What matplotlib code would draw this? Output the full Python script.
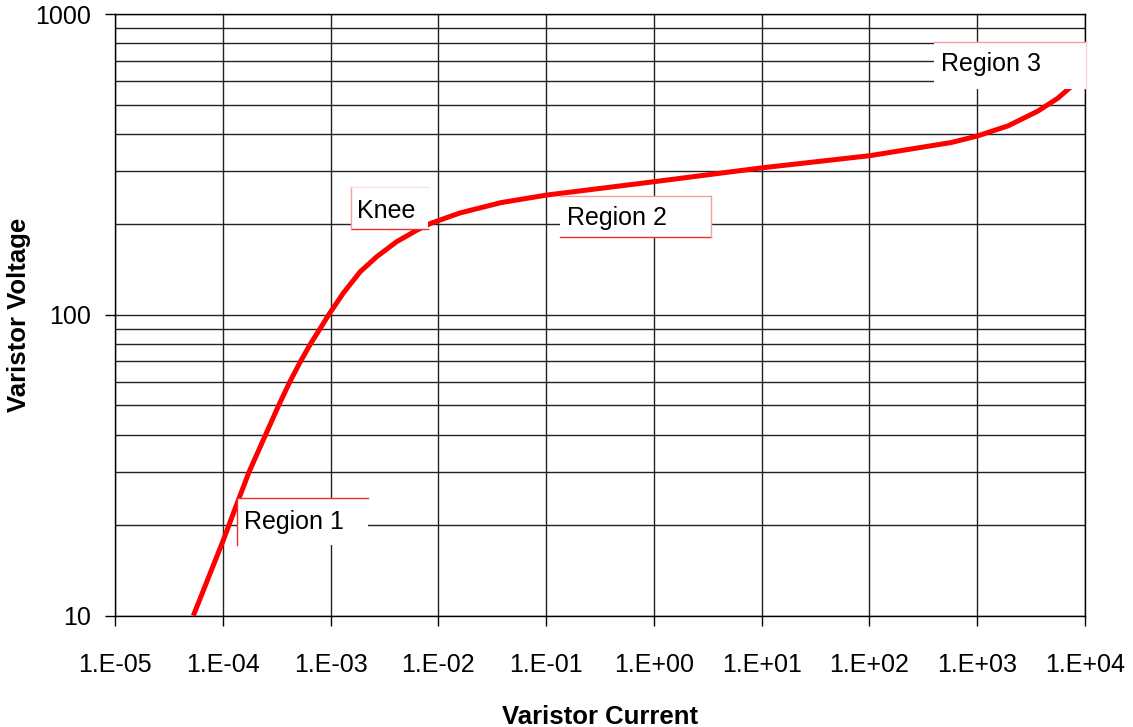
import matplotlib
matplotlib.use("Agg")
import matplotlib.pyplot as plt
from matplotlib.patches import Rectangle
from matplotlib.lines import Line2D
from matplotlib.ticker import FixedLocator, NullLocator, NullFormatter

plt.rcParams['font.family'] = ['Liberation Sans', 'DejaVu Sans']

# Data
current = [5.33e-5, 1.01e-4, 1.35e-4, 1.75e-4, 2.5e-4, 3.3e-4, 4.2e-4,
           5.26e-4, 6.5e-4, 8.0e-4, 9.6e-4, 1.31e-3, 1.88e-3, 2.68e-3, 4.1e-3,
           6.29e-3, 8.36e-3, 1.58e-2, 3.8e-2, 1.0e-1, 1.0, 10.0, 100.0, 575.0,
           1000.0, 1940.0, 3670.0, 5600.0, 7740.0, 9000.0]
voltage = [10, 17.8, 23.5, 30, 40, 50, 60, 70, 80, 90, 100, 118, 139, 156, 175,
           191, 201, 218, 236, 250, 277, 308, 338, 374, 393, 425, 476, 525,
           581, 620]

x_ticks = [1e-5, 1e-4, 1e-3, 1e-2, 1e-1, 1e0, 1e1, 1e2, 1e3, 1e4]
x_tick_labels = ['1.E-05', '1.E-04', '1.E-03', '1.E-02', '1.E-01', '1.E+00',
                 '1.E+01', '1.E+02', '1.E+03', '1.E+04']
y_ticks = [10, 100, 1000]
y_tick_labels = ['10', '100', '1000']
y_minor = [20, 30, 40, 50, 60, 70, 80, 90, 200, 300, 400, 500, 600, 700, 800, 900]

annotations = ['Region 1', 'Knee', 'Region 2', 'Region 3']

W, H = 1133, 727
fig = plt.figure(figsize=(W / 100, H / 100), dpi=100)

def fx(px):
    return px / W

def fy(py):
    return 1 - py / H

ax = fig.add_axes([fx(115), fy(615.7), fx(1085) - fx(115), fy(14) - fy(615.7)])
ax.set_xscale('log')
ax.set_yscale('log')
ax.set_xlim(1e-5, 1e4)
ax.set_ylim(10, 1000)

ax.xaxis.set_major_locator(FixedLocator(x_ticks))
ax.set_xticklabels(x_tick_labels)
ax.xaxis.set_minor_locator(NullLocator())
ax.yaxis.set_major_locator(FixedLocator(y_ticks))
ax.set_yticklabels(y_tick_labels)
ax.yaxis.set_minor_locator(FixedLocator(y_minor))
ax.yaxis.set_minor_formatter(NullFormatter())

ax.tick_params(axis='x', which='major', length=7, width=1, color='black',
               labelsize=18, pad=20, direction='out')
ax.tick_params(axis='y', which='major', length=7, width=1, color='black',
               labelsize=18, pad=10, direction='out')
ax.tick_params(axis='y', which='minor', length=0)

ax.grid(True, which='major', axis='both', color='#222222', linewidth=1.0)
ax.grid(True, which='minor', axis='y', color='#222222', linewidth=1.0)
ax.set_axisbelow(True)
for s in ax.spines.values():
    s.set_color('black')
    s.set_linewidth(1.0)

ax.plot(current, voltage, color='#ff0000', linewidth=3.6, zorder=3,
        solid_capstyle='butt', solid_joinstyle='round')

ax.set_xlabel('Varistor Current', fontsize=18.5, fontweight='bold', labelpad=20)
ax.set_ylabel('Varistor Voltage', fontsize=18.5, fontweight='bold', labelpad=3)

# Annotation boxes (pixel geometry)
def box(x0, y0, x1, y1, z, edges):
    fig.add_artist(Rectangle((fx(x0), fy(y1)), fx(x1) - fx(x0), fy(y0) - fy(y1),
                             transform=fig.transFigure, facecolor='white',
                             edgecolor='none', zorder=z))
    for (ax0, ay0, ax1, ay1, col) in edges:
        fig.add_artist(Line2D([fx(ax0), fx(ax1)], [fy(ay0), fy(ay1)],
                              transform=fig.transFigure, color=col,
                              linewidth=1.0, zorder=z + 0.1))

pink = '#f4a0a0'
red = '#e83030'
# Region 1
box(237, 498, 368, 545, 2.5, [(237, 498, 368, 498, red), (237, 498, 237, 545, red)])
fig.text(fx(244), fy(521.5), annotations[0], fontsize=18, va='center', ha='left', zorder=4)
# Knee
box(351, 187, 428, 229, 2.5, [(351, 229, 428, 229, red), (351, 187, 351, 229, pink),
                              (351, 187, 428, 187, '#fbe0e0')])
fig.text(fx(357), fy(210.5), annotations[1], fontsize=18, va='center', ha='left', zorder=4)
# Region 2
box(560, 196, 711, 237, 2.5, [(560, 237, 711, 237, red), (711, 196, 711, 237, pink),
                              (560, 196, 711, 196, pink)])
fig.text(fx(567), fy(218), annotations[2], fontsize=18, va='center', ha='left', zorder=4)
# Region 3 (covers the curve end)
box(934, 42, 1086, 89, 5, [(934, 42, 1086, 42, pink), (1086, 42, 1086, 89, '#fbd0d0')])
fig.text(fx(941), fy(64), annotations[3], fontsize=18, va='center', ha='left', zorder=6)

fig.savefig('out.png', dpi=100)
